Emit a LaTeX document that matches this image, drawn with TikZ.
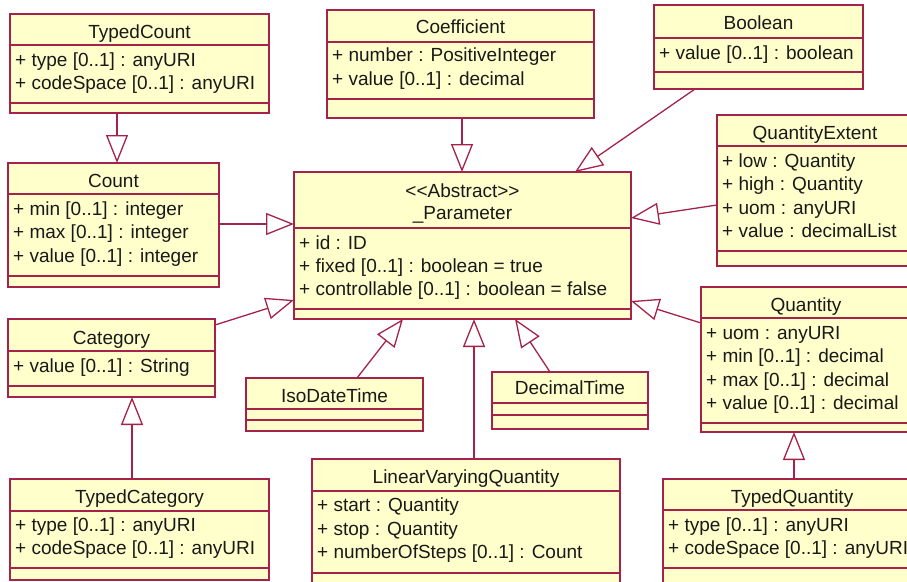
\documentclass[tikz,border=0pt]{standalone}
\usepackage{fontspec}
\setmainfont{Liberation Sans}
\usetikzlibrary{arrows.meta,fit,calc}
\definecolor{umlline}{RGB}{165,35,75}
\definecolor{umlfill}{RGB}{255,255,204}
\definecolor{umltext}{RGB}{25,25,25}
\tikzset{
  cls/.style={draw=umlline, fill=umlfill, line width=1.3pt, inner sep=0pt, outer sep=0pt},
  divider/.style={draw=umlline, line width=1.3pt},
  ttl/.style={inner sep=0pt, text height=13.6pt, text depth=0pt,
    font=\fontsize{19}{22}\selectfont, text=umltext},
  attr/.style={ttl, anchor=west},
  gen/.style={draw=umlline, line width=1.3pt,
    -{Triangle[open, length=28pt, width=22pt, fill=white]}},
}
% class box: name, x1, y1, x2, y2, title divider, attribute divider
\newcommand\umlbox[7]{%
  \node[cls, fit={(#2,#3) (#4,#5)}] (#1) {};
  \draw[divider] (#2,#6) -- (#4,#6);
  \draw[divider] (#2,#7) -- (#4,#7);
}
\begin{document}
\begin{tikzpicture}[x=1pt, y=-1pt]
\useasboundingbox (0,0) rectangle (907,581);
\fill[white] (0,0) rectangle (907,581);
\clip (0,0) rectangle (907,581);

% classes
\umlbox{tc}{10}{14}{269}{113}{45}{103}
\node[ttl] (tc-t) at (139.5,32) {TypedCount};
\node[attr] (tc-a1) at (15,60) {+ type [0..1] : anyURI};
\node[attr] (tc-a2) at (15,83) {+ codeSpace [0..1] : anyURI};

\umlbox{cnt}{8}{163}{219}{287}{194}{276}
\node[ttl] (cnt-t) at (113.5,181) {Count};
\node[attr] (cnt-a1) at (13,209) {+ min [0..1] : integer};
\node[attr] (cnt-a2) at (13,232) {+ max [0..1] : integer};
\node[attr] (cnt-a3) at (13,256) {+ value [0..1] : integer};

\umlbox{coef}{327}{10}{594}{118}{42}{99}
\node[ttl] (coef-t) at (460.5,27) {Coefficient};
\node[attr] (coef-a1) at (332,55) {+ number : PositiveInteger};
\node[attr] (coef-a2) at (332,79) {+ value [0..1] : decimal};

\umlbox{par}{294}{172}{631}{319}{228}{309}
\node[ttl] (par-s) at (462.5,191) {<{}<Abstract>{}>};
\node[ttl] (par-t) at (462.5,213) {\_Parameter};
\node[attr] (par-a1) at (299,243) {+ id : ID};
\node[attr] (par-a2) at (299,266) {+ fixed [0..1] : boolean = true};
\node[attr] (par-a3) at (299,289) {+ controllable [0..1] : boolean = false};

\umlbox{bool}{654}{5}{863}{89}{38}{72}
\node[ttl] (bool-t) at (758.5,23) {Boolean};
\node[attr] (bool-a1) at (659,53) {+ value [0..1] : boolean};

\umlbox{qe}{717}{115}{913}{266}{146}{251}
\node[ttl] (qe-t) at (815,133) {QuantityExtent};
\node[attr] (qe-a1) at (722,161) {+ low : Quantity};
\node[attr] (qe-a2) at (722,184) {+ high : Quantity};
\node[attr] (qe-a3) at (722,208) {+ uom : anyURI};
\node[attr] (qe-a4) at (722,231) {+ value : decimalList};

\umlbox{q}{701}{287}{911}{432}{318}{423}
\node[ttl] (q-t) at (806,305) {Quantity};
\node[attr] (q-a1) at (706,333) {+ uom : anyURI};
\node[attr] (q-a2) at (706,356) {+ min [0..1] : decimal};
\node[attr] (q-a3) at (706,380) {+ max [0..1] : decimal};
\node[attr] (q-a4) at (706,403) {+ value [0..1] : decimal};

\umlbox{tq}{663}{479}{921}{590}{510}{568}
\node[ttl] (tq-t) at (792,497) {TypedQuantity};
\node[attr] (tq-a1) at (668,525) {+ type [0..1] : anyURI};
\node[attr] (tq-a2) at (668,548) {+ codeSpace [0..1] : anyURI};

\umlbox{cat}{8}{319}{215}{397}{351}{386}
\node[ttl] (cat-t) at (111.5,338) {Category};
\node[attr] (cat-a1) at (13,366) {+ value [0..1] : String};

\umlbox{tcat}{10}{479}{269}{580}{511}{568}
\node[ttl] (tcat-t) at (139.5,497) {TypedCategory};
\node[attr] (tcat-a1) at (15,525) {+ type [0..1] : anyURI};
\node[attr] (tcat-a2) at (15,548) {+ codeSpace [0..1] : anyURI};

\umlbox{iso}{246}{378}{423}{431}{409}{420}
\node[ttl] (iso-t) at (334.5,396) {IsoDateTime};

\umlbox{dec}{492}{372}{648}{429}{403}{415}
\node[ttl] (dec-t) at (570,388) {DecimalTime};

\umlbox{lvq}{312}{459}{620}{590}{491}{573}
\node[ttl] (lvq-t) at (466,477) {LinearVaryingQuantity};
\node[attr] (lvq-a1) at (317,505) {+ start : Quantity};
\node[attr] (lvq-a2) at (317,529) {+ stop : Quantity};
\node[attr] (lvq-a3) at (317,552) {+ numberOfSteps [0..1] : Count};

% generalizations
\draw[gen] ($(tc.south west)+(107,0)$) -- ($(cnt.north west)+(109,0)$);
\draw[gen] ($(coef.south west)+(135,0)$) -- ($(par.north west)+(168,0)$);
\draw[gen] ($(bool.south west)+(41,0)$) -- ($(par.north west)+(281,0)$);
\draw[gen] ($(qe.north west)+(0,90)$) -- ($(par.north east)+(0,46)$);
\draw[gen] ($(cnt.north east)+(0,61)$) -- ($(par.north west)+(0,52)$);
\draw[gen] ($(q.north west)+(0,36)$) -- ($(par.north east)+(0,129)$);
\draw[gen] ($(cat.north east)+(0,6)$) -- ($(par.north west)+(0,128)$);
\draw[gen] ($(iso.north west)+(111,0)$) -- ($(par.south west)+(109,0)$);
\draw[gen] ($(dec.north west)+(58,0)$) -- ($(par.south west)+(221,0)$);
\draw[gen] ($(lvq.north west)+(162,0)$) -- ($(par.south west)+(180,0)$);
\draw[gen] ($(tq.north west)+(131,0)$) -- ($(q.south west)+(93,0)$);
\draw[gen] ($(tcat.north west)+(122,0)$) -- ($(cat.south west)+(124,0)$);
\end{tikzpicture}
\end{document}
